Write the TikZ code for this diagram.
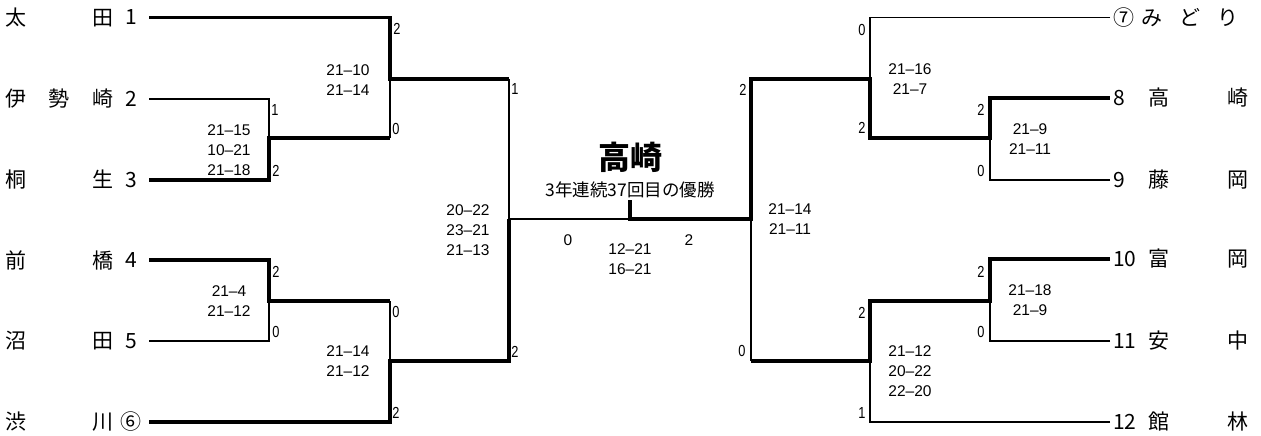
\documentclass[tikz,border=0pt]{standalone}
\usepackage{fontspec}
\setmainfont{Noto Sans CJK JP}
\newfontfamily\scorefont{Liberation Sans}
\newfontfamily\setfont[FakeStretch=0.8]{Liberation Sans}
\tikzset{
  win/.style={line width=3.6pt},
  lose/.style={line width=1.5pt},
  teamlbl/.style={font=\fontsize{21}{24}\selectfont,inner sep=0pt},
  scorelbl/.style={font=\scorefont\fontsize{15.5}{20}\selectfont,align=center,inner sep=0pt},
  setlbl/.style={font=\setfont\fontsize{16}{18}\selectfont,inner sep=0pt},
}
\begin{document}
\begin{tikzpicture}[x=1pt,y=-1pt]
\useasboundingbox (0,0) rectangle (1261,436);
% left teams
\foreach \n/\y/\nm/\no in {1/17.5/太\hfill 田/1, 2/99/伊\hfill 勢\hfill 崎/2, 3/180/桐\hfill 生/3,
    4/260/前\hfill 橋/4, 5/341/沼\hfill 田/5, 6/422/渋\hfill 川/⑥}{
  \node[teamlbl,anchor=west] (n\n) at (5,\y) {\makebox[108pt]{\nm}};
  \node[teamlbl] (t\n) at (131,\y) {\no};
  \coordinate (e\n) at (149,\y);
}
% right teams
\foreach \n/\y/\no/\x/\w/\nm in {7/17.5/⑦/1141/97/み\hfill ど\hfill り, 8/98/8/1148/100/高\hfill 崎,
    9/180/9/1148/100/藤\hfill 岡, 10/259/10/1148/100/富\hfill 岡, 11/341/11/1148/100/安\hfill 中,
    12/422/12/1148/100/館\hfill 林}{
  \node[teamlbl,anchor=west] (t\n) at (1113,\y) {\no};
  \node[teamlbl,anchor=west] (n\n) at (\x,\y) {\makebox[\w pt]{\nm}};
  \coordinate (e\n) at (1110,\y);
}
% joints
\coordinate (a1) at (269,138);
\coordinate (a2) at (390,79);
\coordinate (a3) at (269,301);
\coordinate (a4) at (390,361);
\coordinate (a5) at (509,219);
\coordinate (b1) at (990,138);
\coordinate (b2) at (870,79);
\coordinate (b3) at (990,301);
\coordinate (b4) at (870,361);
\coordinate (b5) at (751,219);
\coordinate (fin) at (630,219);
\coordinate (top) at (630,200);
% left bracket
\draw[win] (e1) -| (a2) -- (a2 -| a5);
\draw[lose] (a2 -| a5) -- (a5);
\draw[lose] (e2) -| (a1);
\draw[win] (e3) -| (a1) -- (a1 -| a2);
\draw[lose] (a1 -| a2) -- (a2);
\draw[win] (e4) -| (a3) -- (a3 -| a4);
\draw[lose] (a3 -| a4) -- (a4);
\draw[lose] (e5) -| (a3);
\draw[win] (e6) -| (a4) -- (a4 -| a5) -- (a5);
% final and right bracket
\draw[lose] (a5) -- (fin);
\draw[win] (top) -- (fin) -- (b5) |- (b2) |- (b1) |- (e8);
\draw[lose] (e7) -| (b2);
\draw[lose] (e9) -| (b1);
\draw[win] (e10) -| (b3) -- (b3 -| b4) -- (b4) -- (b4 -| b5);
\draw[lose] (b4 -| b5) -- (b5);
\draw[lose] (e11) -| (b3);
\draw[lose] (e12) -| (b4);
% champion
\node[font=\fontsize{32}{34}\bfseries\selectfont,inner sep=0pt] (champ) at (630,157) {高崎};
\node[font=\fontsize{17.5}{20}\selectfont,inner sep=0pt] (note) at (630,190) {3年連続37回目の優勝};
% set counts
\foreach \x/\y/\s [count=\i] in {397/29/2, 275/110/1, 276/171/2, 396/129/0, 515/89/1,
    276/272/2, 276/332/0, 396/312/0, 396/413/2, 515/352/2,
    862/30/0, 743/90/2, 862/128/2, 981/110/2, 981/171/0,
    981/272/2, 981/332/0, 862/313/2, 742/351/0, 862/413/1}
  \node[setlbl] (p\i) at (\x,\y) {\s};
% scores
\foreach \x/\y/\s [count=\i] in {348/80/{21–10\\21–14}, 229/150/{21–15\\10–21\\21–18},
    229/301/{21–4\\21–12}, 348/361/{21–14\\21–12}, 468/230/{20–22\\23–21\\21–13},
    568/240/0, 689/240/2, 630/259/{12–21\\16–21},
    910/79/{21–16\\21–7}, 790/219/{21–14\\21–11}, 1030/139/{21–9\\21–11},
    1030/300/{21–18\\21–9}, 910/371/{21–12\\20–22\\22–20}}
  \node[scorelbl] (s\i) at (\x,\y) {\s};
\end{tikzpicture}
\end{document}
